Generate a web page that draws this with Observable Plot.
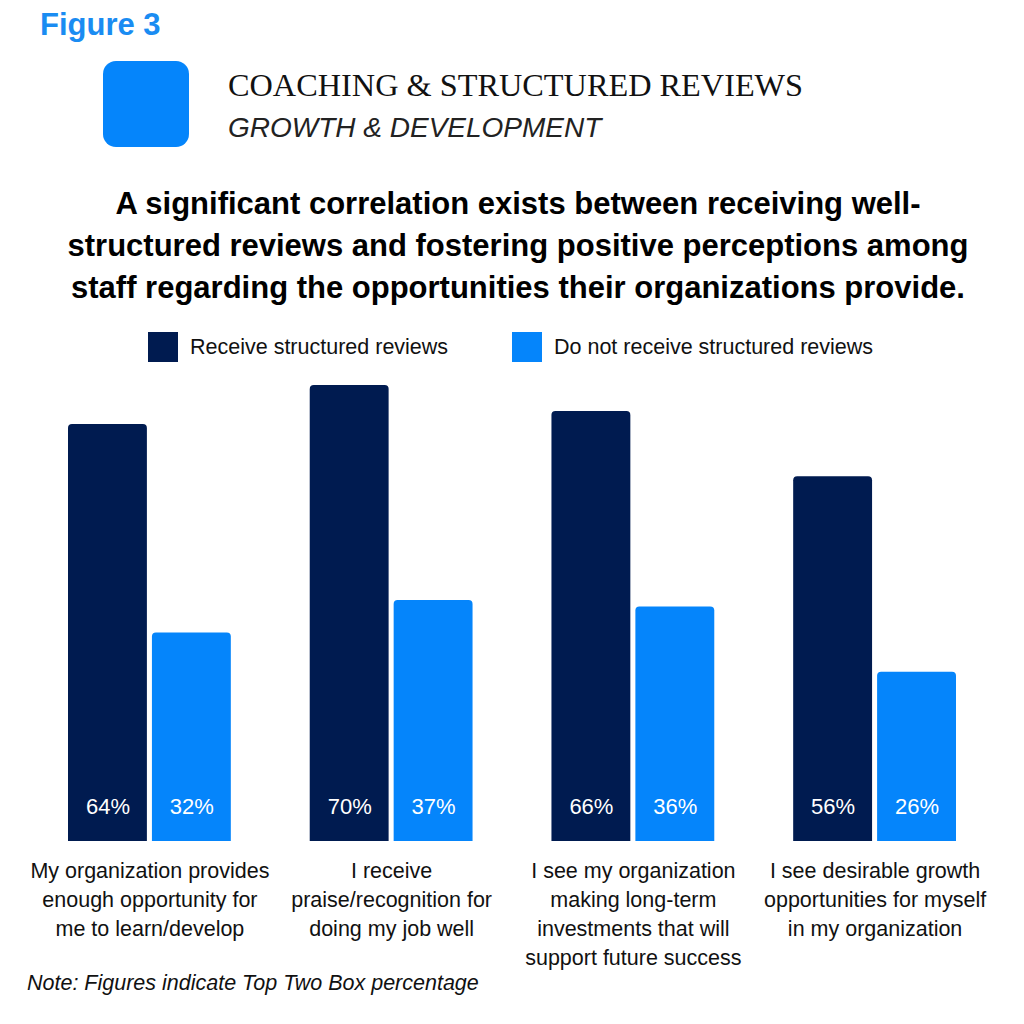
<!DOCTYPE html>
<html>
<head>
<meta charset="utf-8">
<script src="https://cdn.jsdelivr.net/npm/d3@7"></script>
<script src="https://cdn.jsdelivr.net/npm/@observablehq/plot@0.6"></script>
<style>
  html, body { margin: 0; padding: 0; background: #fff; }
  body { width: 1024px; height: 1024px; position: relative; overflow: hidden; font-family: "Liberation Sans", Arial, sans-serif; color: #111; }
  .abs { position: absolute; white-space: nowrap; }
  #fig { left: 40px; top: 9px; font-size: 31px; line-height: 1; font-weight: bold; color: #1a8cf2; }
  #badge { left: 103px; top: 61px; width: 86px; height: 86px; border-radius: 13px; background: #0585fb; }
  #t1 { left: 228px; top: 69px; font-family: "Liberation Serif", "Times New Roman", serif; font-size: 32.3px; line-height: 1; color: #111; }
  #t2 { left: 228px; top: 114px; font-size: 28px; line-height: 1; font-style: italic; color: #222; }
  #headline { left: 0; top: 183px; width: 1036px; text-align: center; font-size: 31px; line-height: 42px; font-weight: bold; color: #000; }
  #legend { left: 0; top: 332px; width: 1024px; height: 30px; }
  .sw { position: absolute; top: 0; width: 30px; height: 30px; }
  .lt { position: absolute; top: 0; font-size: 21.5px; line-height: 30px; color: #111; }
  #chart { left: 0; top: 370px; }
  #note { left: 27px; top: 973px; font-size: 21.5px; line-height: 1; font-style: italic; color: #111; }
</style>
</head>
<body>
<div id="fig" class="abs">Figure 3</div>
<div id="badge" class="abs"></div>
<div id="t1" class="abs">COACHING &amp; STRUCTURED REVIEWS</div>
<div id="t2" class="abs">GROWTH &amp; DEVELOPMENT</div>
<div id="headline" class="abs">A significant correlation exists between receiving well-<br>structured reviews and fostering positive perceptions among<br>staff regarding the opportunities their organizations provide.</div>
<div id="legend" class="abs"></div>
<div id="chart" class="abs"></div>
<div id="note" class="abs">Note: Figures indicate Top Two Box percentage</div>
<script>
const categories = [
  "My organization provides\nenough opportunity for\nme to learn/develop",
  "I receive\npraise/recognition for\ndoing my job well",
  "I see my organization\nmaking long-term\ninvestments that will\nsupport future success",
  "I see desirable growth\nopportunities for myself\nin my organization"
];
const series = ["Receive structured reviews", "Do not receive structured reviews"];
const receive = [64, 70, 66, 56];
const notReceive = [32, 37, 36, 26];
const colors = ["#001b50", "#0585fb"];

const rows = [];
categories.forEach((c, i) => {
  rows.push({category: c, series: series[0], value: receive[i]});
  rows.push({category: c, series: series[1], value: notReceive[i]});
});

// HTML legend
const legend = document.getElementById("legend");
const legendX = [148, 512];
series.forEach((s, i) => {
  const sw = document.createElement("div");
  sw.className = "sw";
  sw.style.left = legendX[i] + "px";
  sw.style.background = colors[i];
  legend.appendChild(sw);
  const t = document.createElement("div");
  t.className = "lt";
  t.style.left = (legendX[i] + 42) + "px";
  t.textContent = s;
  legend.appendChild(t);
});

const chart = Plot.plot({
  width: 1024,
  height: 620,
  marginTop: 15,
  marginBottom: 149,
  marginLeft: 68,
  marginRight: 68,
  style: {fontFamily: "'Liberation Sans', Arial, sans-serif", background: "transparent"},
  fx: {domain: categories, paddingInner: 0.3264, paddingOuter: 0, round: false, label: null},
  x: {domain: series, paddingInner: 0.06, paddingOuter: 0, round: false, axis: null},
  y: {domain: [0, 70], axis: null},
  color: {domain: series, range: colors},
  marks: [
    Plot.barY(rows, {fx: "category", x: "series", y: "value", fill: "series", ry1: 4}),
    Plot.text(rows, {fx: "category", x: "series", y: 0, dy: -35, text: d => d.value + "%", fill: "white", fontSize: 22}),
    Plot.axisFx({anchor: "bottom", tickSize: 0, tickPadding: 16, fontSize: 21.5, lineHeight: 1.35, label: null, fill: "#111"})
  ]
});
document.getElementById("chart").appendChild(chart);
</script>
</body>
</html>
